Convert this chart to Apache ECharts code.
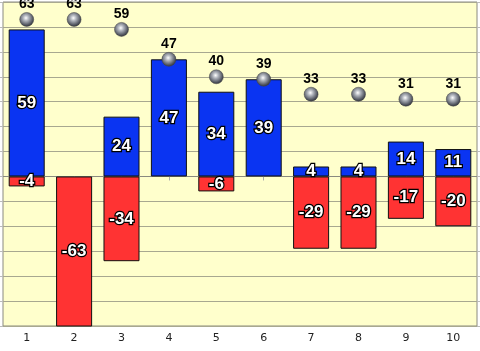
<!DOCTYPE html>
<html><head><meta charset="utf-8">
<script src="https://cdn.jsdelivr.net/npm/echarts@6/dist/echarts.min.js"></script>
<style>html,body{margin:0;padding:0;background:#fff}#c{width:480px;height:351px}</style>
</head><body><div id="c"></div>
<script>
const categories = ['1','2','3','4','5','6','7','8','9','10'];
const positiveValues = [59, null, 24, 47, 34, 39, 4, 4, 14, 11];
const negativeValues = [-4, -63, -34, null, -6, null, -29, -29, -17, -20];
const totalValues = [63, 63, 59, 47, 40, 39, 33, 33, 31, 31];

const chart = echarts.init(document.getElementById('c'), null, {renderer:'canvas'});
const barLabel = {
  show: true, position: 'inside', color: '#fff', fontFamily: 'Liberation Sans, Arial, sans-serif',
  fontWeight: 'bold', fontSize: 17, textBorderColor: '#000', textBorderWidth: 2.5
};
chart.setOption({
  animation: false,
  backgroundColor: '#fff',
  grid: {left: 3, right: 3, top: 2, bottom: 25, show: true, backgroundColor: '#FFFFCC', borderColor: '#8a8a80', borderWidth: 1, containLabel: false},
  xAxis: {
    type: 'category', data: categories, boundaryGap: true,
    axisLine: {show: true, lineStyle: {color: '#8a8a80'}},
    axisTick: {show: true, alignWithLabel: true, length: 4, lineStyle: {color: '#aaa'}},
    axisLabel: {color: '#222', fontSize: 11, fontFamily: 'DejaVu Sans, sans-serif', margin: 7}
  },
  yAxis: [{
    type: 'value', min: -60, max: 70, interval: 10,
    axisLabel: {show: false},
    axisLine: {show: false},
    axisTick: {show: true, length: 3, inside: false, lineStyle: {color: '#bbb'}},
    splitLine: {show: true, lineStyle: {color: '#a8a890', width: 1}}
  },{
    type: 'value', min: -60, max: 70, interval: 10, position: 'right',
    axisLabel: {show: false}, axisLine: {show: false},
    axisTick: {show: true, length: 3, lineStyle: {color: '#bbb'}},
    splitLine: {show: false}
  }],
  series: [
    {
      name: 'pos', type: 'bar', stack: 's', data: positiveValues, barCategoryGap: '24%',
      itemStyle: {color: '#0a34f2', borderColor: '#111', borderWidth: 1},
      label: barLabel, z: 2
    },
    {
      name: 'neg', type: 'bar', stack: 's', data: negativeValues, barCategoryGap: '24%',
      itemStyle: {color: '#ff3333', borderColor: '#111', borderWidth: 1},
      label: barLabel, z: 2
    },
    {
      name: 'total', type: 'scatter', data: totalValues, symbol: 'circle', symbolSize: 14, z: 5,
      itemStyle: {
        opacity: 1,
        color: new echarts.graphic.RadialGradient(0.45, 0.4, 0.65, [
          {offset: 0, color: '#ffffff'},
          {offset: 0.3, color: '#b0b4bc'},
          {offset: 0.75, color: '#50545e'},
          {offset: 1, color: '#24262c'}
        ]),
        borderColor: '#444', borderWidth: 0.5
      },
      label: {show: true, position: 'top', distance: 1, color: '#000', fontWeight: 'bold', fontSize: 14,
        fontFamily: 'Liberation Sans, Arial, sans-serif'}
    }
  ]
});
</script></body></html>
